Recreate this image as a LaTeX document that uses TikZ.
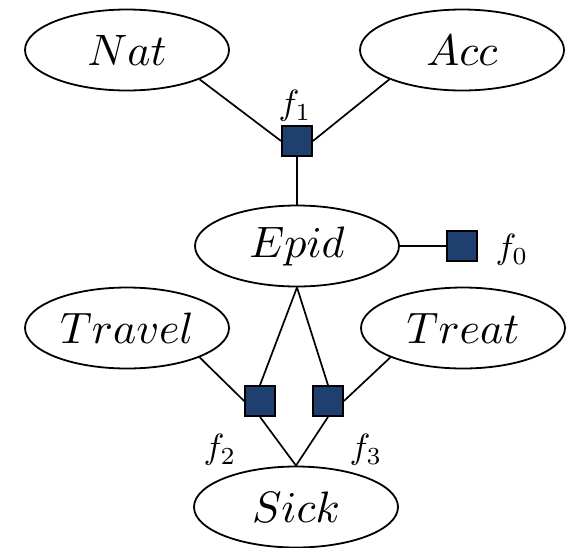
\documentclass[tikz,border=0pt]{standalone}
\usepackage{graphicx}
\usetikzlibrary{shapes.geometric}
\definecolor{facblue}{RGB}{31,63,110}
\newcommand{\vtxt}[1]{\scalebox{4.4}{$#1$}}
\newcommand{\ftxt}[1]{\scalebox{3.5}{$#1$}}
\begin{document}
\begin{tikzpicture}[x=1pt,y=-1pt,
  varnode/.style={ellipse,draw,line width=1.8pt,minimum width=204pt,minimum height=81pt,inner sep=0pt},
  facnode/.style={rectangle,draw,line width=1.8pt,fill=facblue,minimum size=30pt,inner sep=0pt},
  flabel/.style={inner sep=0pt},
  edge/.style={line width=1.7pt}]
\useasboundingbox (0,0) rectangle (577,547);
\node[varnode] (nat) at (127,50) {\vtxt{Nat}};
\node[varnode] (acc) at (462,50) {\vtxt{Acc}};
\node[varnode] (epid) at (297,246) {\vtxt{Epid}};
\node[varnode] (travel) at (127,328) {\vtxt{Travel}};
\node[varnode] (treat) at (463,328) {\vtxt{Treat}};
\node[varnode] (sick) at (296,507) {\vtxt{Sick}};
\node[facnode] (f1) at (297,141) {};
\node[facnode] (f0) at (462,246) {};
\node[facnode] (f2) at (260,401) {};
\node[facnode] (f3) at (328,401) {};
\node[flabel] (l1) at (295,106) {\ftxt{f_1}};
\node[flabel] (l0) at (512,250) {\ftxt{f_0}};
\node[flabel] (l2) at (220,450) {\ftxt{f_2}};
\node[flabel] (l3) at (366,450) {\ftxt{f_3}};
\draw[edge] (nat.-22) -- (f1.west);
\draw[edge] (acc.202) -- (f1.east);
\draw[edge] (f1) -- (epid);
\draw[edge] (epid) -- (f0);
\draw[edge] (epid.south) -- (f2.north);
\draw[edge] (epid.south) -- (f3.north);
\draw[edge] (travel.-22) -- (f2.west);
\draw[edge] (treat.202) -- (f3.east);
\draw[edge] (f2.south) -- (sick.north);
\draw[edge] (f3.south) -- (sick.north);
\end{tikzpicture}
\end{document}
